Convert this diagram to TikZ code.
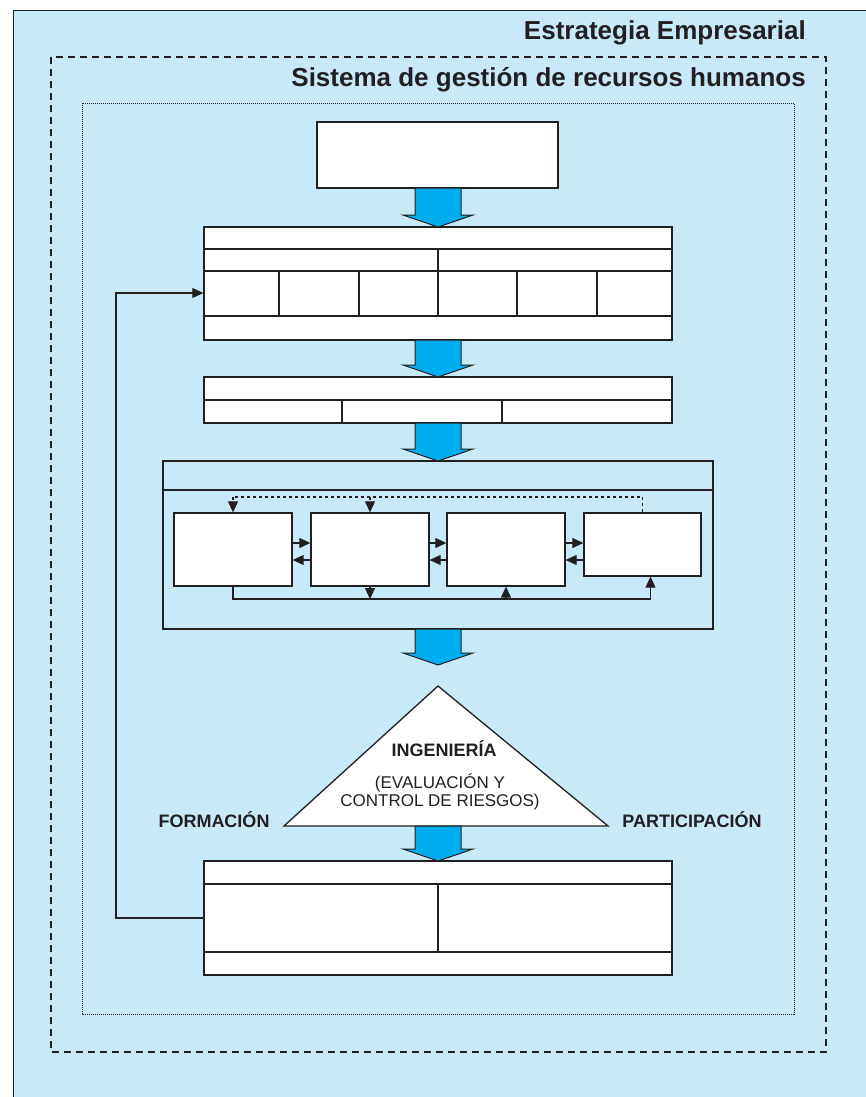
\documentclass[tikz,border=0pt]{standalone}
\usepackage{fontspec}
\setmainfont{Liberation Sans}
\usetikzlibrary{arrows.meta,positioning}
\definecolor{fondo}{HTML}{C7E9F8}
\definecolor{flecha}{HTML}{00AEEF}
\definecolor{linea}{HTML}{231F20}

\begin{document}
\begin{tikzpicture}[x=1pt,y=-1pt,line join=miter]
\tikzstyle{caja}=[rectangle,draw=linea,fill=white,line width=1.3pt,inner sep=0pt]
\tikzstyle{celda}=[draw=linea,line width=1.3pt]
\tikzstyle{flujo}=[-{Triangle[length=11pt,width=10pt]},draw=linea,line width=1.1pt]
\tikzstyle{gordo}=[draw=linea,fill=flecha,line width=1pt]
\tikzstyle{titulo}=[anchor=east,inner sep=0pt,text=linea,font=\bfseries\fontsize{26}{30}\selectfont]
\tikzstyle{rotulo}=[text=linea,font=\bfseries\fontsize{18}{20}\selectfont]
\useasboundingbox (0,0) rectangle (865,1097);
% marcos
\draw[draw=linea,fill=fondo,line width=1pt] (13,11) rectangle (880,1110);
\draw[linea,line width=1.1pt,dash pattern=on 7pt off 5pt] (51,57) rectangle (826,1052);
\draw[linea,line width=0.8pt,dash pattern=on 1pt off 1pt] (82,103) rectangle (794,1014);
\node [titulo] (estrategia) at (806,33) {Estrategia Empresarial};
\node [titulo] (sistema) at (806,80) {Sistema de gestión de recursos humanos};
% cajas
\node [caja,minimum width=241,minimum height=66] (politica) at (437.5,155) {};
\node [caja,minimum width=468,minimum height=113] (plan) at (438,283.5) {};
\node [caja,minimum width=468,minimum height=46] (org) at (438,400) {};
\node [caja,fill=none,minimum width=550,minimum height=168] (proceso) at (438,545) {};
\node [caja,minimum width=468,minimum height=114] (control) at (438,918) {};
\node [caja,minimum width=118,minimum height=73] (a) at (233,549.5) {};
\node [caja,minimum width=118,minimum height=73] (b) at (370,549.5) {};
\node [caja,minimum width=118,minimum height=73] (c) at (506,549.5) {};
\node [caja,minimum width=117,minimum height=63] (d) at (642.5,544.5) {};
% celdas
\foreach \y in {249,271,316} \draw[celda] (204,\y) -- (672,\y);
\draw[celda] (438,249) -- (438,316);
\foreach \x in {279,359,517,597} \draw[celda] (\x,271) -- (\x,316);
\draw[celda] (204,400) -- (672,400);
\foreach \x in {342,502} \draw[celda] (\x,400) -- (\x,423);
\draw[celda] (163,490) -- (713,490);
\foreach \y in {884,952} \draw[celda] (204,\y) -- (672,\y);
\draw[celda] (438,884) -- (438,952);
% triangulo
\coordinate (cima) at (438,686);
\coordinate (izq) at (284,826);
\coordinate (der) at (608,826);
\draw[caja] (cima) -- (izq) -- (der) -- cycle;
\node [rotulo] (ing) at (444,749) {INGENIERÍA};
\node [text=linea,font=\fontsize{17}{17.5}\selectfont,align=center] (eval) at (440,792) {(EVALUACIÓN Y\\CONTROL DE RIESGOS)};
\node [rotulo] (formacion) at (214,820) {FORMACIÓN};
\node [rotulo] (participacion) at (692,820) {PARTICIPACIÓN};
% flechas gruesas
\foreach \ya/\yb in {188/227,340/377,423/461,629/665,826/861}
  \draw[gordo] (415,\ya) -- (461,\ya) -- (461,\yb-12) -- (473,\yb-12) -- (438,\yb) -- (403,\yb-12) -- (415,\yb-12) -- cycle;
% flechas entre cajas
\coordinate (ida) at (0,543);
\coordinate (vuelta) at (0,560);
\coordinate (arriba) at (0,497);
\coordinate (abajo) at (0,599);
\draw[flujo] (a.east |- ida) -- (b.west |- ida);
\draw[flujo] (b.west |- vuelta) -- (a.east |- vuelta);
\draw[flujo] (b.east |- ida) -- (c.west |- ida);
\draw[flujo] (c.west |- vuelta) -- (b.east |- vuelta);
\draw[flujo] (c.east |- ida) -- (d.west |- ida);
\draw[flujo] (d.west |- vuelta) -- (c.east |- vuelta);
\draw[flujo,-,dashed] (d.north) -- (d.north |- arriba) -- (a.north |- arriba);
\draw[flujo,dashed] (a.north |- arriba) -- (a.north);
\draw[flujo,dashed] (b.north |- arriba) -- (b.north);
\draw[flujo] (a.south) |- ([xshift=8]d.south |- abajo) -- ([xshift=8]d.south);
\draw[flujo] (b.south) -- (b.south |- abajo);
\draw[flujo] (c.south |- abajo) -- (c.south);
% retroalimentacion
\coordinate (retro) at (116,293);
\draw[flujo] (control.west) -| (retro) -- (retro -| plan.west);
\end{tikzpicture}
\end{document}
